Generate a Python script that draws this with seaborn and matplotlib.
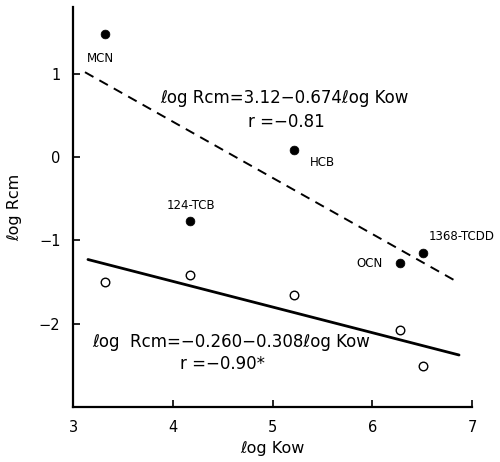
import matplotlib
matplotlib.use("Agg")
import matplotlib.pyplot as plt
import seaborn as sns
import numpy as np
import pandas as pd

# Data
compounds = ["MCN", "124-TCB", "HCB", "OCN", "1368-TCDD"]
log_kow = [3.32, 4.17, 5.22, 6.28, 6.51]
log_rcm_filled = [1.48, -0.77, 0.08, -1.27, -1.15]
log_rcm_open = [-1.50, -1.42, -1.66, -2.08, -2.51]

# regression lines (intercept, slope, x-range)
dash_coef = (3.12, -0.674)
dash_x = [3.12, 6.82]
solid_coef = (-0.260, -0.308)
solid_x = [3.15, 6.87]

x_ticks = [3, 4, 5, 6, 7]
y_ticks = [-2, -1, 0, 1]
y_tick_labels = ["\u22122", "\u22121", "0", "1"]

sns.set_theme(style="white")
plt.rcParams['font.family'] = ['DejaVu Sans']
plt.rcParams['text.color'] = 'black'
plt.rcParams['axes.labelcolor'] = 'black'
plt.rcParams['xtick.color'] = 'black'
plt.rcParams['ytick.color'] = 'black'

fig = plt.figure(figsize=(5.0, 4.62), dpi=100)
ax = fig.add_axes([0.146, 0.119, 0.798, 0.866])

df = pd.DataFrame({"kow": log_kow, "filled": log_rcm_filled, "open": log_rcm_open, "name": compounds})
sns.scatterplot(data=df, x="kow", y="filled", ax=ax, color="black", s=40, edgecolor="black", zorder=3)
sns.scatterplot(data=df, x="kow", y="open", ax=ax, facecolor="white", edgecolor="black", linewidth=1.0, s=38, zorder=3)

dx = np.array(dash_x)
sx = np.array(solid_x)
sns.lineplot(x=dx, y=dash_coef[0] + dash_coef[1] * dx, ax=ax, color="black", linestyle=(0, (5, 3.5)), linewidth=1.4)
sns.lineplot(x=sx, y=solid_coef[0] + solid_coef[1] * sx, ax=ax, color="black", linewidth=2.0)

# point labels
label_pos = {"MCN": (3.28, 1.18), "124-TCB": (4.18, -0.58),
             "HCB": (5.50, -0.07), "OCN": (5.97, -1.28),
             "1368-TCDD": (6.90, -0.96)}
for n in compounds:
    x, y = label_pos[n]
    ax.text(x, y, n, fontsize=8.5, ha="center", va="center")

ax.text(5.12, 0.71, "\u2113og Rcm=3.12\u22120.674\u2113og Kow", fontsize=12, ha="center", va="center")
ax.text(5.14, 0.42, "r =\u22120.81", fontsize=12, ha="center", va="center")
ax.text(4.59, -2.22, "\u2113og  Rcm=\u22120.260\u22120.308\u2113og Kow", fontsize=12, ha="center", va="center")
ax.text(4.50, -2.48, "r =\u22120.90*", fontsize=12, ha="center", va="center")

ax.set_xlim(3, 7)
ax.set_ylim(-3, 1.8)
ax.set_xticks(x_ticks)
ax.set_xticklabels([str(t) for t in x_ticks])
ax.set_yticks(y_ticks)
ax.set_yticklabels(y_tick_labels)
ax.tick_params(axis="both", direction="in", length=5, width=1.2, labelsize=10.5,
               left=True, bottom=True, pad=9)
ax.set_xlabel("\u2113og Kow", fontsize=11.5, labelpad=5)
ax.set_ylabel("\u2113og Rcm", fontsize=11.5, labelpad=12)

for s in ["top", "right"]:
    ax.spines[s].set_visible(False)
for s in ["left", "bottom"]:
    ax.spines[s].set_color("black")
    ax.spines[s].set_linewidth(1.6)

fig.savefig("out.png", dpi=100, facecolor="white")
